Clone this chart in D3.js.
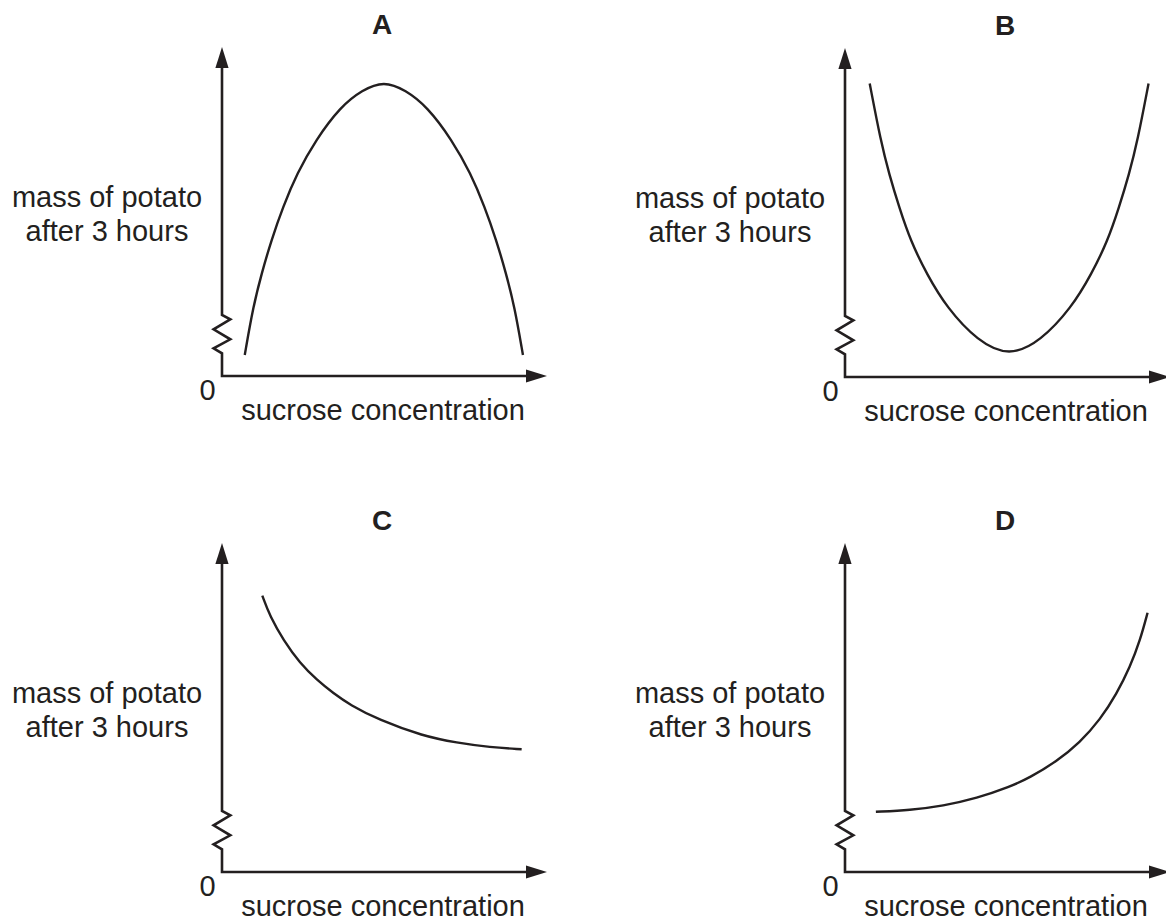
<!DOCTYPE html>
<html>
<head>
<meta charset="utf-8">
<script src="https://cdn.jsdelivr.net/npm/d3@7"></script>
<style>
  html, body { margin: 0; padding: 0; background: #ffffff; }
  svg { display: block; }
  text { font-family: "Liberation Sans", Arial, Helvetica, sans-serif; fill: #231f20; }
</style>
</head>
<body>
<svg id="chart" width="1166" height="920"></svg>
<script>
// ---- Data (arbitrary units: concentration 0-10, mass 0-10) ----
const panelLetters = ["A", "B", "C", "D"];
const yLabelLines = ["mass of potato", "after 3 hours"];
const xLabel = "sucrose concentration";
const originLabel = "0";

const curveAx = [0.70, 0.96, 1.22, 1.52, 1.88, 2.31, 2.88, 3.65, 4.31, 4.98, 5.65, 6.31, 7.08, 7.65, 8.08, 8.44, 8.74, 9.00, 9.26];
const curveAy = [0.64, 2.11, 3.12, 4.13, 5.15, 6.16, 7.17, 8.19, 8.69, 8.97, 8.69, 8.19, 7.17, 6.16, 5.15, 4.13, 3.12, 2.11, 0.64];

const curveBx = [0.76, 1.10, 1.36, 1.67, 2.02, 2.52, 3.13, 4.08, 5.05, 6.02, 6.97, 7.58, 8.08, 8.43, 8.74, 9.00, 9.34];
const curveBy = [8.92, 7.17, 6.16, 5.15, 4.13, 3.12, 2.11, 1.09, 0.62, 1.09, 2.11, 3.12, 4.13, 5.15, 6.16, 7.17, 8.92];

const curveCx = [1.24, 1.48, 1.89, 2.40, 2.92, 3.43, 3.94, 4.81, 6.19, 7.22, 8.25, 9.22];
const curveCy = [8.40, 7.76, 7.05, 6.34, 5.84, 5.43, 5.08, 4.63, 4.13, 3.93, 3.79, 3.73];

const curveDx = [0.95, 2.00, 3.02, 4.05, 5.08, 5.69, 6.51, 7.23, 7.85, 8.36, 8.77, 9.08, 9.31];
const curveDy = [1.83, 1.88, 2.01, 2.24, 2.59, 2.87, 3.36, 3.94, 4.63, 5.42, 6.23, 7.04, 7.88];

const curvesX = [curveAx, curveBx, curveCx, curveDx];
const curvesY = [curveAy, curveBy, curveCy, curveDy];

// ---- Layout ----
const INK = "#231f20";
const origins = [[222, 376], [845, 377], [222, 872], [845, 872]];
const axisW = 325, axisH = 329;

const svg = d3.select("#chart");

panelLetters.forEach((letter, i) => {
  const [ox, oy] = origins[i];
  const x = d3.scaleLinear().domain([0, 10]).range([ox, ox + axisW]);
  const y = d3.scaleLinear().domain([0, 10]).range([oy, oy - axisH]);
  const g = svg.append("g");

  // arrow heads (tips at the domain max)
  const ah = 21, aw = 6.6;
  const xt = x(0), yt = y(10);
  g.append("path")
    .attr("d", `M${xt},${yt} L${xt - aw},${yt + ah} L${xt + aw},${yt + ah} Z`)
    .attr("fill", INK);
  const xr = x(10), yb = y(0);
  g.append("path")
    .attr("d", `M${xr},${yb} L${xr - ah},${yb - aw} L${xr - ah},${yb + aw} Z`)
    .attr("fill", INK);

  // y axis with break zigzag, then x axis
  const zz = [
    [0, yt + ah - 1],
    [0, oy - 61],
    [8.3, oy - 56.7],
    [-8.4, oy - 46.7],
    [8.3, oy - 36.7],
    [-8.4, oy - 27.7],
    [0, oy - 22.7],
    [0, oy]
  ];
  g.append("path")
    .attr("d", d3.line()(zz.map(p => [xt + p[0], p[1]])) + ` L${xr - ah + 1},${oy}`)
    .attr("fill", "none")
    .attr("stroke", INK)
    .attr("stroke-width", 2.6)
    .attr("stroke-linejoin", "miter");

  // curve
  const pts = curvesX[i].map((v, k) => [v, curvesY[i][k]]);
  g.append("path")
    .datum(pts)
    .attr("d", d3.line().x(d => x(d[0])).y(d => y(d[1])).curve(d3.curveBasis))
    .attr("fill", "none")
    .attr("stroke", INK)
    .attr("stroke-width", 2.4);

  // texts
  g.append("text")
    .attr("x", ox + 160).attr("y", oy - 342)
    .attr("text-anchor", "middle")
    .attr("font-weight", "bold")
    .attr("font-size", 28)
    .text(letter);

  yLabelLines.forEach((line, k) => {
    g.append("text")
      .attr("x", ox - 115).attr("y", oy - 169 + k * 34)
      .attr("text-anchor", "middle")
      .attr("font-size", 29)
      .text(line);
  });

  g.append("text")
    .attr("x", ox - 14.5).attr("y", oy + 24)
    .attr("text-anchor", "middle")
    .attr("font-size", 29)
    .text(originLabel);

  g.append("text")
    .attr("x", ox + 161).attr("y", oy + 44)
    .attr("text-anchor", "middle")
    .attr("font-size", 29)
    .text(xLabel);
});
</script>
</body>
</html>
